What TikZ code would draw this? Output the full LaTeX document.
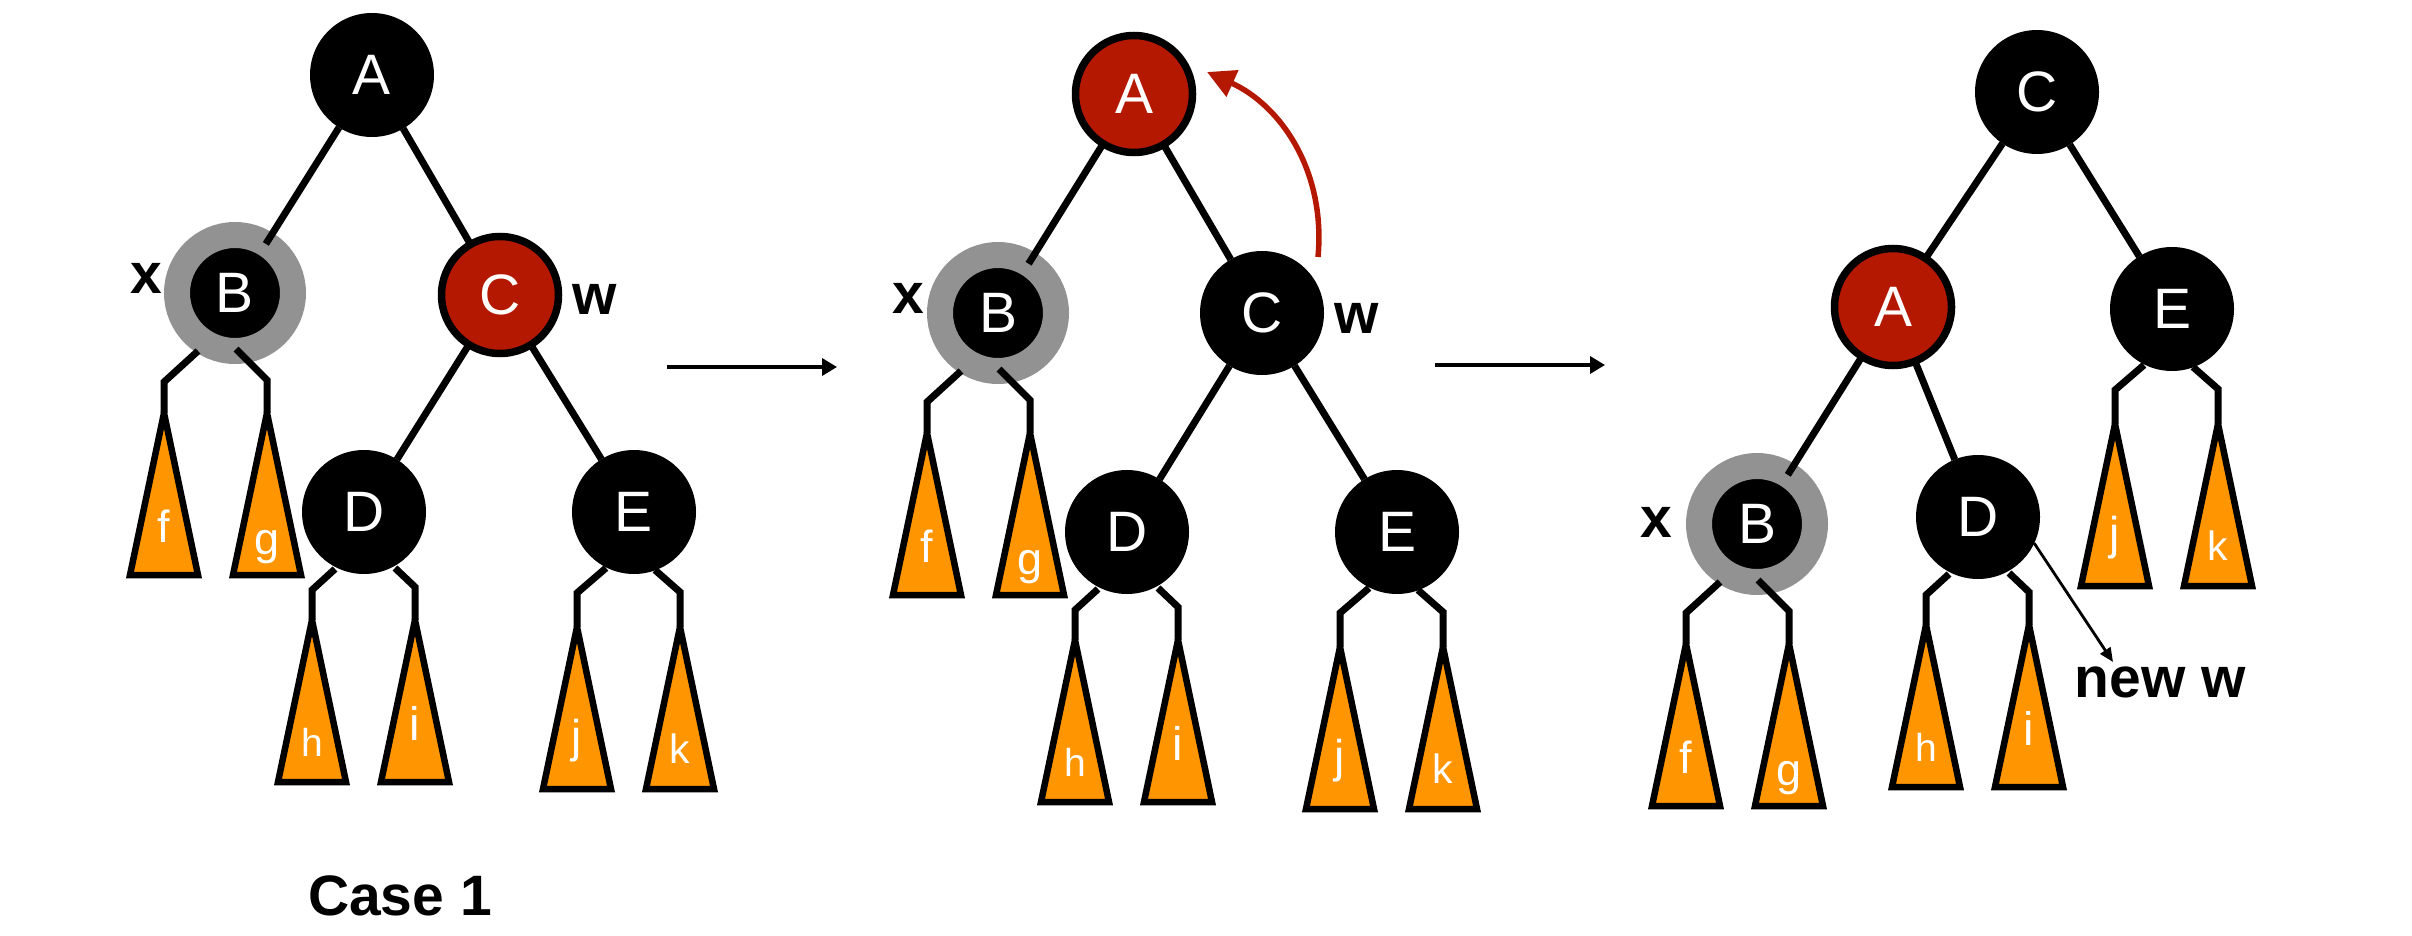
\documentclass[tikz,border=0pt]{standalone}
\usepackage{fontspec}
\setmainfont{Liberation Sans}
\usetikzlibrary{arrows.meta,calc}
\definecolor{rbred}{RGB}{181,24,0}
\definecolor{ringgray}{RGB}{146,146,146}
\definecolor{triorange}{RGB}{255,149,0}
\newcommand\rbnodefont{\fontsize{57}{57}\selectfont}
\newcommand\rblblfont{\fontsize{57}{57}\selectfont\bfseries}
\tikzset{
  bn/.style={circle, fill=black, minimum size=124pt, inner sep=0pt, outer sep=0pt, text=white, font=\rbnodefont},
  rn/.style={circle, fill=rbred, draw=black, line width=7.5pt, minimum size=117pt, inner sep=0pt, outer sep=0pt, text=white, font=\rbnodefont},
  xn/.style={circle, fill=black, draw=ringgray, line width=26pt, minimum size=116pt, inner sep=0pt, outer sep=0pt, text=white, font=\rbnodefont},
  edge/.style={line width=7pt},
  lbl/.style={font=\rblblfont, inner sep=0pt, anchor=base},
  subtri/.style={fill=triorange, draw=black, line width=6.5pt},
  harrow/.style={line width=3.5pt, -{Triangle[length=15pt,width=17pt]}},
  nwarrow/.style={line width=2.8pt, -{Triangle[length=14pt,width=12pt]}},
  redarrow/.style={draw=rbred, line width=5.5pt, -{Triangle[length=28pt,width=28pt]}},
  pics/subtree/.style n args={3}{code={
    \coordinate (-apex) at (0,0);
    \path[subtri] (0,0) -- (34,162) -- (-34,162) -- cycle;
    \node[font=\fontsize{#2}{#2}\selectfont, text=white, anchor=base, inner sep=0pt] (-lab) at (0,165-#3) {#1};
  }}
}
\newcommand\kidsB[1]{%
  \pic (#1f) at ($(#1)+(-71,120)$) {subtree={f}{45}{36}};
  \pic (#1g) at ($(#1)+(32,120)$) {subtree={g}{45}{24}};
  \draw[edge] ($(#1)+(-37,58)$) -- ($(#1)+(-71,89)$) -- (#1f-apex);
  \draw[edge] ($(#1)+(1,56)$) -- ($(#1)+(32,87)$) -- (#1g-apex);
}
\newcommand\kidsD[1]{%
  \pic (#1h) at ($(#1)+(-52,108)$) {subtree={h}{39}{29}};
  \pic (#1i) at ($(#1)+(51,108)$) {subtree={i}{47}{45}};
  \draw[edge] ($(#1)+(-29,57)$) -- ($(#1)+(-52,78)$) -- (#1h-apex);
  \draw[edge] ($(#1)+(31,56)$) -- ($(#1)+(51,75)$) -- (#1i-apex);
}
\newcommand\kidsE[1]{%
  \pic (#1j) at ($(#1)+(-57,115)$) {subtree={j}{46}{40}};
  \pic (#1k) at ($(#1)+(46,115)$) {subtree={k}{41}{29}};
  \draw[edge] ($(#1)+(-28,56)$) -- ($(#1)+(-57,81)$) -- (#1j-apex);
  \draw[edge] ($(#1)+(21,58)$) -- ($(#1)+(46,80)$) -- (#1k-apex);
}
\begin{document}
\begin{tikzpicture}[x=1pt,y=-1pt]
\useasboundingbox (0,0) rectangle (2412,936);

% ---------- tree 1 ----------
\node[bn] (A1) at (372,75) {A};
\node[xn] (B1) at (235,293) {B};
\node[rn] (C1) at (500,295) {C};
\node[bn] (D1) at (364,512) {D};
\node[bn] (E1) at (634,512) {E};
\node[lbl] (x1) at (146,293) {x};
\node[lbl] (w1) at (595,314) {w};
\draw[edge] (A1) -- (B1);
\draw[edge] (A1) -- (C1);
\draw[edge] (C1) -- (D1);
\draw[edge] (C1) -- (E1);
\kidsB{B1}
\kidsD{D1}
\kidsE{E1}
\node[lbl] (case) at (400,915) {Case 1};

% ---------- arrow 1 ----------
\coordinate (h1s) at (667,367);
\coordinate (h1e) at (837,367);
\draw[harrow] (h1s) -- (h1e);

% ---------- tree 2 ----------
\node[rn] (A2) at (1134,94) {A};
\node[xn] (B2) at (998,313) {B};
\node[bn] (C2) at (1262,313) {C};
\node[bn] (D2) at (1127,532) {D};
\node[bn] (E2) at (1397,532) {E};
\node[lbl] (x2) at (908,313) {x};
\node[lbl] (w2) at (1357,333) {w};
\draw[edge] (A2) -- (B2);
\draw[edge] (A2) -- (C2);
\draw[edge] (C2) -- (D2);
\draw[edge] (C2) -- (E2);
\kidsB{B2}
\kidsD{D2}
\kidsE{E2}
\coordinate (rs) at (1318,257);
\coordinate (re) at (1207,72);
\draw[redarrow] (rs) .. controls (1326,170) and (1280,105) .. (re);

% ---------- arrow 2 ----------
\coordinate (h2s) at (1435,365);
\coordinate (h2e) at (1605,365);
\draw[harrow] (h2s) -- (h2e);

% ---------- tree 3 ----------
\node[bn] (C3) at (2037,92) {C};
\node[rn] (A3) at (1893,307) {A};
\node[bn] (E3) at (2172,309) {E};
\node[xn] (B3) at (1757,524) {B};
\node[bn] (D3) at (1978,517) {D};
\node[lbl] (x3) at (1656,537) {x};
\draw[edge] (C3) -- (A3);
\draw[edge] (C3) -- (E3);
\draw[edge] (A3) -- (B3);
\draw[edge] (A3) -- (D3);
\kidsB{B3}
\kidsD{D3}
\kidsE{E3}
\node[lbl] (nw) at (2160,697) {new w};
\coordinate (nwtip) at (2113,662);
\draw[nwarrow] (D3.-25) -- (nwtip);
\end{tikzpicture}
\end{document}
